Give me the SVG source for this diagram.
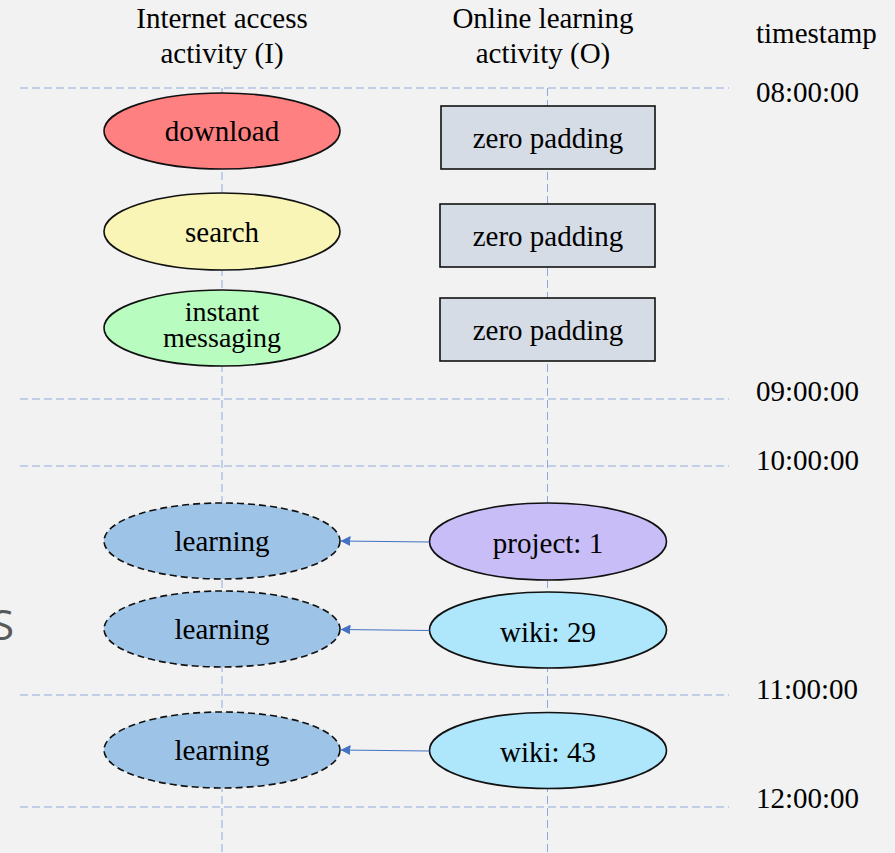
<svg xmlns="http://www.w3.org/2000/svg" width="895" height="853" viewBox="0 0 895 853">
  <style>
    .lbl { font-family: "Liberation Serif", "Times New Roman", serif; font-size: 29px; fill: #000; }
    .mid { text-anchor: middle; }
    .tight { font-size: 28px; }
    .grid { stroke: #8eaadb; stroke-width: 1; stroke-dasharray: 8 4; fill: none; }
    .node { stroke: #111; stroke-width: 1.6; }
    .dash { stroke-dasharray: 7 4; }
    .link { stroke: #4472c4; stroke-width: 1.2; fill: none; marker-end: url(#arrow); }
  </style>
  <defs>
    <marker id="arrow" viewBox="0 0 10 10" refX="10" refY="5" markerWidth="10" markerHeight="10" markerUnits="userSpaceOnUse" orient="auto">
      <path d="M0,0 L10,5 L0,10 Z" fill="#4472c4"/>
    </marker>
  </defs>

  <rect width="895" height="853" fill="#f2f2f2"/>

  <!-- partial slide letter at left edge -->
  <text x="-9" y="640" font-family="'Open Sans', 'Liberation Sans', sans-serif" font-size="42" fill="#595959">S</text>

  <!-- column headers -->
  <g id="headers">
    <text class="lbl mid" x="222" y="28">Internet access</text>
    <text class="lbl mid" x="222" y="63">activity (I)</text>
    <text class="lbl mid" x="543" y="28">Online learning</text>
    <text class="lbl mid" x="543" y="63">activity (O)</text>
    <text class="lbl" x="756" y="43">timestamp</text>
  </g>

  <!-- time grid -->
  <g id="grid">
    <line class="grid" x1="20" y1="88" x2="729" y2="88"/>
    <line class="grid" x1="20" y1="399" x2="729" y2="399"/>
    <line class="grid" x1="20" y1="466" x2="729" y2="466"/>
    <line class="grid" x1="20" y1="695" x2="729" y2="695"/>
    <line class="grid" x1="20" y1="807" x2="729" y2="807"/>
    <line class="grid" x1="222" y1="88" x2="222" y2="853"/>
    <line class="grid" x1="547.5" y1="88" x2="547.5" y2="853"/>
  </g>

  <g id="timestamps">
    <text class="lbl" x="756" y="102">08:00:00</text>
    <text class="lbl" x="756" y="401">09:00:00</text>
    <text class="lbl" x="756" y="470">10:00:00</text>
    <text class="lbl" x="756" y="699">11:00:00</text>
    <text class="lbl" x="756" y="808">12:00:00</text>
  </g>

  <!-- internet access activities -->
  <g id="download">
    <ellipse class="node" cx="222" cy="131" rx="118" ry="38" fill="#ff8080"/>
    <text class="lbl mid" x="222" y="141">download</text>
  </g>
  <g id="search">
    <ellipse class="node" cx="222" cy="231.5" rx="118" ry="38.5" fill="#f8f5b6"/>
    <text class="lbl mid" x="222" y="242">search</text>
  </g>
  <g id="instant-messaging">
    <ellipse class="node" cx="222" cy="328" rx="118" ry="38" fill="#b9fcc0"/>
    <text class="lbl mid tight" x="222" y="321">instant</text>
    <text class="lbl mid tight" x="222" y="347">messaging</text>
  </g>

  <!-- online learning: padding slots -->
  <g id="pad-1">
    <rect class="node" x="441" y="106" width="214" height="63" fill="#d6dce5"/>
    <text class="lbl mid" x="548" y="148">zero padding</text>
  </g>
  <g id="pad-2">
    <rect class="node" x="440" y="204" width="215" height="63" fill="#d6dce5"/>
    <text class="lbl mid" x="548" y="246">zero padding</text>
  </g>
  <g id="pad-3">
    <rect class="node" x="440" y="298" width="215" height="63" fill="#d6dce5"/>
    <text class="lbl mid" x="548" y="340">zero padding</text>
  </g>

  <!-- inferred learning activities -->
  <g id="learning-1">
    <ellipse class="node dash" cx="222" cy="541" rx="118" ry="38" fill="#9dc3e6"/>
    <text class="lbl mid" x="222" y="551">learning</text>
  </g>
  <g id="learning-2">
    <ellipse class="node dash" cx="222" cy="629" rx="118" ry="38" fill="#9dc3e6"/>
    <text class="lbl mid" x="222" y="639">learning</text>
  </g>
  <g id="learning-3">
    <ellipse class="node dash" cx="222" cy="750" rx="118" ry="38" fill="#9dc3e6"/>
    <text class="lbl mid" x="222" y="760">learning</text>
  </g>

  <!-- online learning records -->
  <g id="project-1">
    <ellipse class="node" cx="548" cy="541.5" rx="118.5" ry="38.5" fill="#c8bdf7"/>
    <text class="lbl mid" x="548" y="553">project: 1</text>
  </g>
  <g id="wiki-29">
    <ellipse class="node" cx="548" cy="630" rx="118.5" ry="38" fill="#aee6fc"/>
    <text class="lbl mid" x="548" y="642">wiki: 29</text>
  </g>
  <g id="wiki-43">
    <ellipse class="node" cx="548" cy="750.5" rx="118.5" ry="38" fill="#aee6fc"/>
    <text class="lbl mid" x="548" y="762">wiki: 43</text>
  </g>

  <!-- mapping connectors -->
  <g id="connectors">
    <line class="link" x1="429.5" y1="542" x2="340.5" y2="541"/>
    <line class="link" x1="429.5" y1="630.5" x2="340.5" y2="629.5"/>
    <line class="link" x1="429.5" y1="751" x2="340.5" y2="750"/>
  </g>
</svg>
